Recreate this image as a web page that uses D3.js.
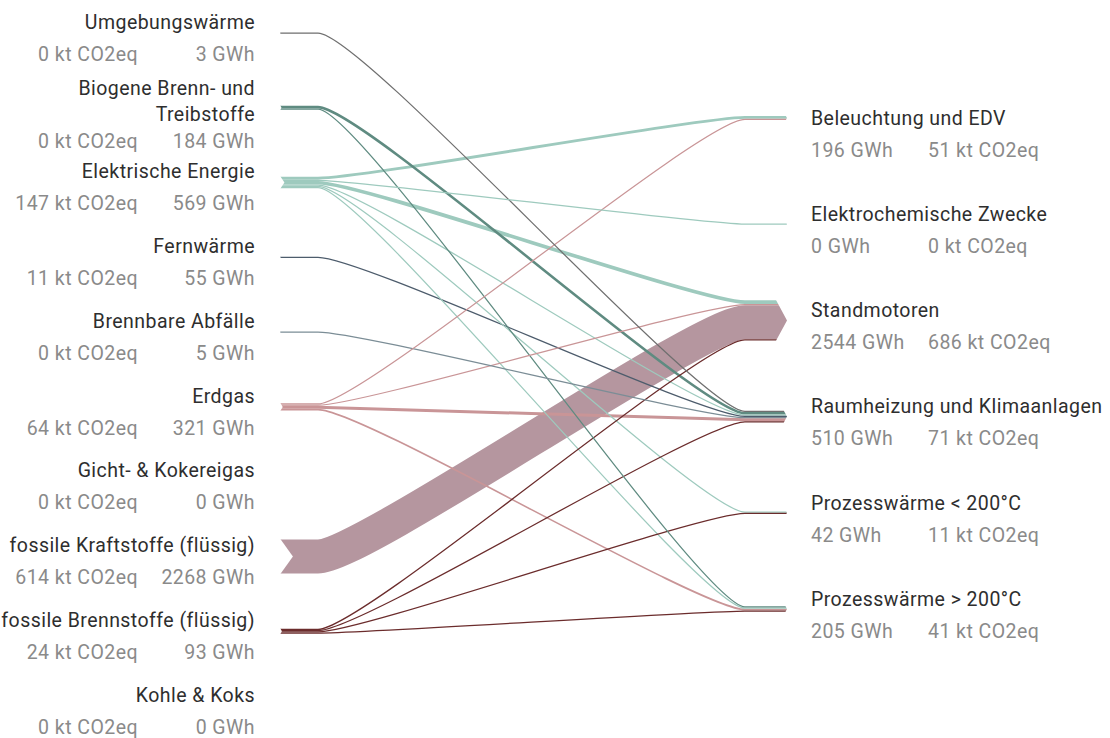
<!DOCTYPE html>
<html><head><meta charset="utf-8">
<script src="https://cdn.jsdelivr.net/npm/d3@7"></script>
<style>body{margin:0;background:#fff} text{font-family:Roboto, sans-serif; letter-spacing:0.45px}</style>
</head><body><svg id="c" width="1110" height="738"></svg>
<script>
// ---- data ----
const sourceNames = ["Umgebungswärme", "Biogene Brenn- und\nTreibstoffe", "Elektrische Energie", "Fernwärme", "Brennbare Abfälle", "Erdgas", "Gicht- & Kokereigas", "fossile Kraftstoffe (flüssig)", "fossile Brennstoffe (flüssig)", "Kohle & Koks"];
const sourceGWh = [3, 184, 569, 55, 5, 321, 0, 2268, 93, 0];
const sourceCO2 = [0, 0, 147, 11, 0, 64, 0, 614, 24, 0];
const targetNames = ["Beleuchtung und EDV", "Elektrochemische Zwecke", "Standmotoren", "Raumheizung und Klimaanlagen", "Prozesswärme < 200°C", "Prozesswärme > 200°C"];
const targetGWh = [196, 0, 2544, 510, 42, 205];
const targetCO2 = [51, 0, 686, 71, 11, 41];
const linkSource = [0, 1, 1, 2, 2, 2, 2, 2, 2, 3, 4, 5, 5, 5, 5, 7, 8, 8, 8, 8];
const linkTarget = [3, 3, 5, 0, 1, 2, 3, 4, 5, 3, 3, 0, 2, 3, 5, 2, 2, 3, 4, 5];
const linkGWh    = [3, 171, 13, 192, 0, 248, 58, 22, 49, 55, 5, 4, 8, 197, 112, 2268, 20, 22, 20, 31];

// ---- styles ----
const sourceColors = ["#6f6f6f", "#5f8b81", "#9ecabe", "#4d5c6c", "#7b8d96", "#c99597", "#999", "#b5969f", "#6b2c2c", "#555"];
const nameColor = "#2e2e2e", valueColor = "#8a8a8a";
const svg = d3.select("#c");

const x0 = 280, xa = 318, xb = 745, x1 = 787, bend = 45;
const ySource = d3.scalePoint().domain(d3.range(sourceNames.length)).range([33, 706]);
const yTargetLabel = d3.scalePoint().domain(d3.range(targetNames.length)).range([118, 599]);
const yTarget = i => yTargetLabel(i) + (i === 0 ? 0 : 10);
const wScale = d3.scaleLinear().domain([0, 2268]).range([0, 34]);
const lw = v => Math.max(1.25, wScale(v));

const links = linkGWh.map((v, i) => ({s: linkSource[i], t: linkTarget[i], v, w: lw(v)}));
const srcH = sourceNames.map((_, i) => d3.sum(links.filter(l => l.s === i), l => l.w));
const tgtH = targetNames.map((_, i) => d3.sum(links.filter(l => l.t === i), l => l.w));
sourceNames.forEach((_, i) => {
  let y = ySource(i) - srcH[i] / 2;
  links.filter(l => l.s === i).sort((a, b) => a.t - b.t).forEach(l => { l.ys = y + l.w / 2; y += l.w; });
});
targetNames.forEach((_, i) => {
  let y = yTarget(i) - tgtH[i] / 2;
  links.filter(l => l.t === i).sort((a, b) => a.s - b.s).forEach(l => { l.yt = y + l.w / 2; y += l.w; });
});

function linkPath(l) {
  const p = d3.path();
  p.moveTo(x0, l.ys); p.lineTo(xa, l.ys);
  p.bezierCurveTo(xa + bend, l.ys, xb - bend, l.yt, xb, l.yt);
  p.lineTo(x1, l.yt);
  return p.toString();
}

svg.append("g").selectAll("path").data(links.slice().sort((a, b) => b.v - a.v)).join("path")
  .attr("d", linkPath).attr("fill", "none")
  .attr("stroke", d => sourceColors[d.s]).attr("stroke-width", d => d.w);

svg.append("g").selectAll("polygon").data(sourceNames.map((_, i) => i).filter(i => srcH[i] > 0)).join("polygon")
  .attr("fill", "#fff")
  .attr("points", i => {
    const c = ySource(i), h = srcH[i];
    return [[x0 - 2, c - h / 2 - 1], [x0, c - h / 2 - 1], [x0 + h * 0.38, c], [x0, c + h / 2 + 1], [x0 - 2, c + h / 2 + 1]].join(" ");
  });
svg.append("g").selectAll("polygon").data(targetNames.map((_, i) => i).filter(i => tgtH[i] > 0)).join("polygon")
  .attr("fill", "#fff")
  .attr("points", i => {
    const c = yTarget(i), h = tgtH[i], xbody = x1 - h * 0.27;
    return [[xbody, c - h / 2 - 1], [x1 + 2, c - h / 2 - 1], [x1 + 2, c + h / 2 + 1], [xbody, c + h / 2 + 1], [xbody, c + h / 2], [x1, c], [xbody, c - h / 2]].join(" ");
  });

const fs = 19.5;
sourceNames.forEach((name, i) => {
  const lines = name.split("\n"), c = ySource(i), n = lines.length;
  const g = svg.append("g");
  lines.forEach((t, j) => {
    g.append("text").attr("x", 255).attr("y", c - 11 - 9 * (n - 1) + 26 * j).attr("dy", "0.35em")
      .attr("text-anchor", "end").attr("font-size", fs).attr("fill", nameColor).text(t);
  });
  const vy = c + 21 + 12 * (n - 1);
  g.append("text").attr("x", 138).attr("y", vy).attr("dy", "0.35em").attr("text-anchor", "end")
    .attr("font-size", fs).attr("fill", valueColor).text(`${sourceCO2[i]} kt CO2eq`);
  g.append("text").attr("x", 255).attr("y", vy).attr("dy", "0.35em").attr("text-anchor", "end")
    .attr("font-size", fs).attr("fill", valueColor).text(`${sourceGWh[i]} GWh`);
});
targetNames.forEach((name, i) => {
  const c = yTargetLabel(i);
  const g = svg.append("g");
  g.append("text").attr("x", 811).attr("y", c).attr("dy", "0.35em").attr("font-size", fs).attr("fill", nameColor).text(name);
  g.append("text").attr("x", 811).attr("y", c + 32).attr("dy", "0.35em").attr("font-size", fs).attr("fill", valueColor).text(`${targetGWh[i]} GWh`);
  g.append("text").attr("x", 928).attr("y", c + 32).attr("dy", "0.35em").attr("font-size", fs).attr("fill", valueColor).text(`${targetCO2[i]} kt CO2eq`);
});
</script></body></html>
